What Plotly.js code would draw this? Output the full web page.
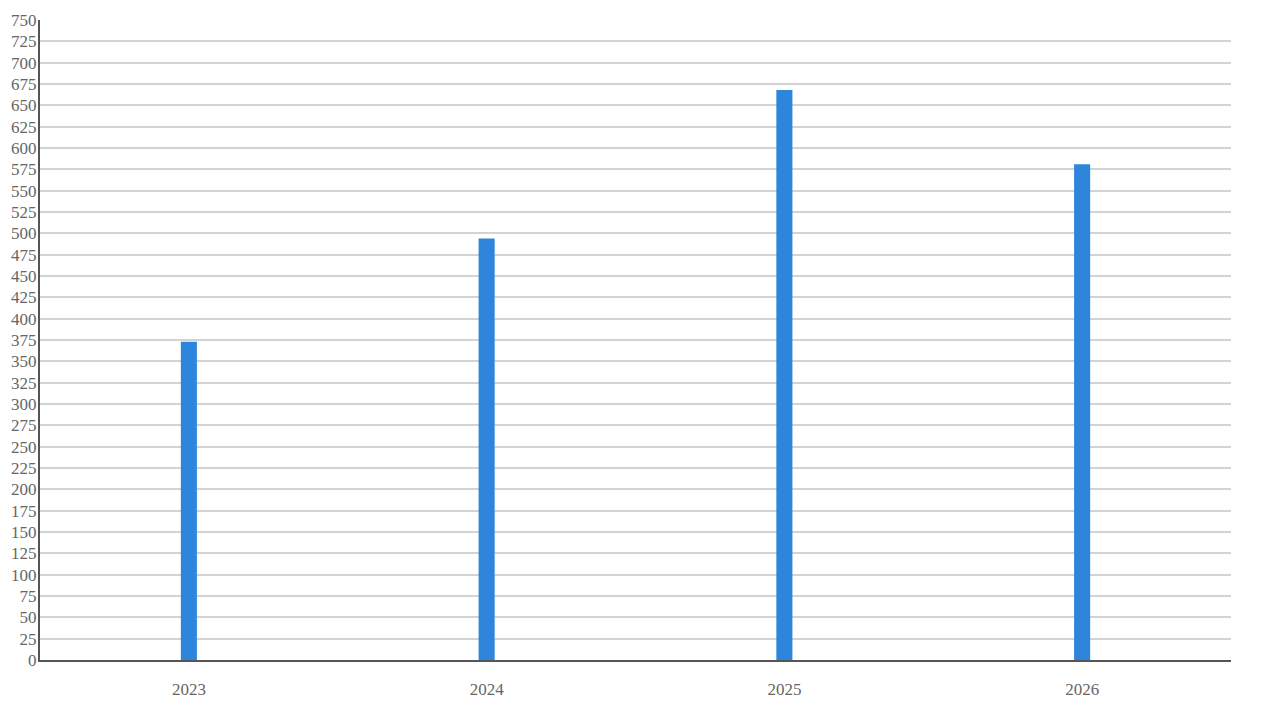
<!DOCTYPE html>
<html>
<head>
<meta charset="utf-8">
<script src="https://cdn.plot.ly/plotly-3.0.1.min.js"></script>
<style>
  body { margin: 0; background: #fff; }
  #chart { width: 1280px; height: 720px; }
</style>
</head>
<body>
<div id="chart"></div>
<script>
// values
var years = ['2023', '2024', '2025', '2026'];
var totals = [373, 494, 668, 581];

var data = [
  {
    x: years,
    y: totals,
    type: 'bar',
    width: 0.054,                       // thin bars
    marker: {color: '#2e86dc'}
  }
];

var layout = {
  width: 1280,
  height: 720,
  showlegend: false,
  paper_bgcolor: '#fff',
  plot_bgcolor: '#fff',
  margin: {l: 40, r: 49, t: 20, b: 60},
  font: {family: '"Liberation Serif", "Times New Roman", serif', size: 17, color: '#666'},
  xaxis: {
    type: 'category',
    showgrid: false,
    showline: true,
    linecolor: '#555',
    linewidth: 2,
    ticks: 'outside',
    ticklen: 13,
    tickcolor: 'rgba(0,0,0,0)',         // invisible ticks just push labels down
    zeroline: false
  },
  yaxis: {
    range: [0, 750],
    dtick: 25,
    tick0: 0,
    showgrid: true,
    gridcolor: '#d3d3d3',
    gridwidth: 2,
    showline: true,
    linecolor: '#555',
    linewidth: 2,
    ticks: '',
    ticklabelstandoff: -2,              // labels sit close to the axis
    zeroline: false
  }
};

Plotly.newPlot('chart', data, layout, {staticPlot: true});
</script>
</body>
</html>
